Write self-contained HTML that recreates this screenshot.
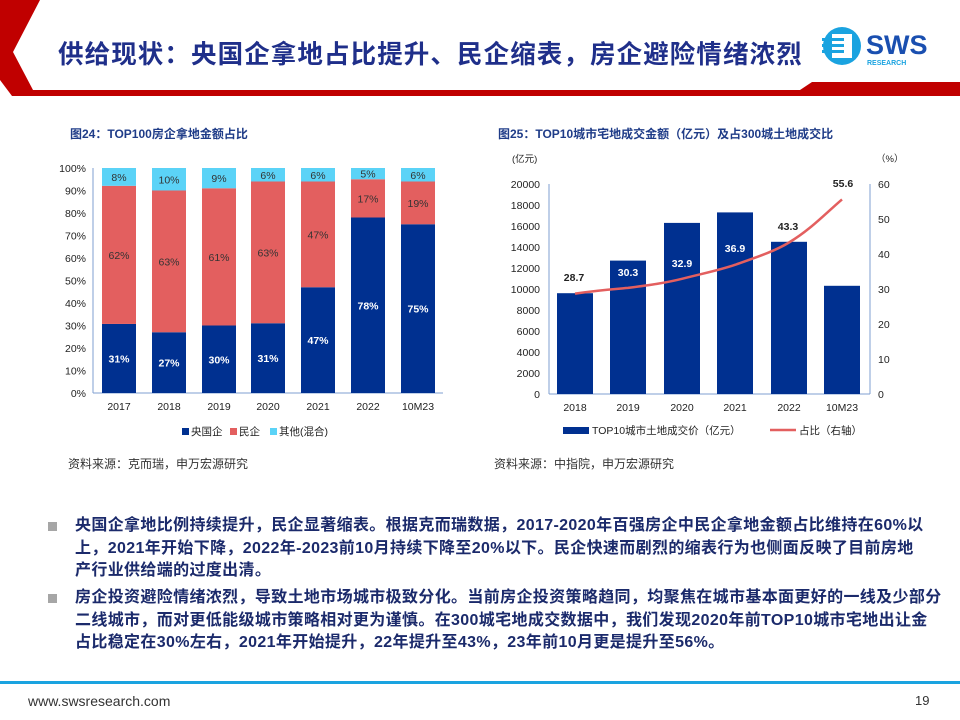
<!DOCTYPE html>
<html><head><meta charset="utf-8"><style>
body{margin:0;width:960px;height:720px;background:#fff;position:relative;overflow:hidden;font-family:"Liberation Sans","Noto Sans CJK SC",sans-serif}
.t{position:absolute;white-space:nowrap}
.b{position:absolute;left:75px;width:870px;font-size:16px;font-weight:bold;color:#1b2a6b;line-height:22.6px;white-space:nowrap;letter-spacing:0.35px}
.sq{position:absolute;left:48px;width:9px;height:9px;background:#a6a6a6}
</style></head><body>
<svg width="960" height="100" style="position:absolute;left:0;top:0">
<polygon points="0,0 40,0 13,52 33,90 800,90 812,82 960,82 960,96 12,96 0,80" fill="#c00000"/>
</svg>
<div class="t" style="left:58px;top:34px;font-size:25.5px;font-weight:bold;color:#1f2f8a;font-family:'Noto Sans CJK SC',sans-serif;letter-spacing:1.1px">供给现状：央国企拿地占比提升、民企缩表，房企避险情绪浓烈</div>
<svg width="130" height="50" style="position:absolute;left:820px;top:22px">
<circle cx="22" cy="24" r="19" fill="#1aa3e0"/><rect x="12" y="12" width="20" height="24" fill="#fff"/>
<rect x="2" y="16" width="22" height="3" fill="#1aa3e0"/><rect x="2" y="22" width="22" height="3" fill="#1aa3e0"/><rect x="2" y="28" width="22" height="3" fill="#1aa3e0"/>
<text x="46" y="32" font-family="Liberation Sans" font-weight="bold" font-size="27" fill="#1a4fb0">SWS</text>
<text x="47" y="43" font-family="Liberation Sans" font-weight="bold" font-size="7" fill="#1aa3e0">RESEARCH</text>
</svg>
<div class="t" style="left:70px;top:125px;font-size:12px;font-weight:bold;color:#1f3c88">图24：TOP100房企拿地金额占比</div>
<div class="t" style="left:498px;top:125px;font-size:12px;font-weight:bold;color:#1f3c88">图25：TOP10城市宅地成交金额（亿元）及占300城土地成交比</div>

<svg width="960" height="300" style="position:absolute;left:0;top:150px;font-family:'Liberation Sans','Noto Sans CJK SC',sans-serif" font-size="10.5">
<g fill="#222" text-anchor="end">
<text x="86" y="22">100%</text><text x="86" y="44.5">90%</text><text x="86" y="67">80%</text><text x="86" y="89.5">70%</text><text x="86" y="112">60%</text><text x="86" y="134.5">50%</text><text x="86" y="157">40%</text><text x="86" y="179.5">30%</text><text x="86" y="202">20%</text><text x="86" y="224.5">10%</text><text x="86" y="247">0%</text>
</g>
<line x1="93" y1="18" x2="93" y2="243" stroke="#7f9fd0"/>
<line x1="93" y1="243" x2="443" y2="243" stroke="#7f9fd0"/>
<g id="L"></g>
<g fill="#222" text-anchor="middle">
<text x="119" y="260">2017</text><text x="169" y="260">2018</text><text x="219" y="260">2019</text><text x="268" y="260">2020</text><text x="318" y="260">2021</text><text x="368" y="260">2022</text><text x="418" y="260">10M23</text>
</g>
<rect x="182" y="278" width="7" height="7" fill="#003090"/><text x="191" y="285" fill="#222">央国企</text>
<rect x="230" y="278" width="7" height="7" fill="#e35f5f"/><text x="239" y="285" fill="#222">民企</text>
<rect x="270" y="278" width="7" height="7" fill="#5bd3f7"/><text x="279" y="285" fill="#222">其他(混合)</text>

<text x="512" y="12" fill="#222" font-size="9.5">(亿元)</text>
<text x="876" y="12" fill="#222" font-size="9.5">（%）</text>
<g fill="#222" text-anchor="end">
<text x="540" y="38">20000</text><text x="540" y="59">18000</text><text x="540" y="80">16000</text><text x="540" y="101">14000</text><text x="540" y="122">12000</text><text x="540" y="143">10000</text><text x="540" y="164">8000</text><text x="540" y="185">6000</text><text x="540" y="206">4000</text><text x="540" y="227">2000</text><text x="540" y="248">0</text>
</g>
<g fill="#222">
<text x="878" y="38">60</text><text x="878" y="73">50</text><text x="878" y="108">40</text><text x="878" y="143">30</text><text x="878" y="178">20</text><text x="878" y="213">10</text><text x="878" y="248">0</text>
</g>
<line x1="549" y1="34" x2="549" y2="244" stroke="#7f9fd0"/>
<line x1="870" y1="34" x2="870" y2="244" stroke="#7f9fd0"/>
<line x1="549" y1="244" x2="870" y2="244" stroke="#7f9fd0"/>
<g fill="#003090">
<rect x="557" y="143.2" width="36" height="100.8"/>
<rect x="610" y="110.6" width="36" height="133.4"/>
<rect x="664" y="72.9" width="36" height="171.1"/>
<rect x="717" y="62.4" width="36" height="181.6"/>
<rect x="771" y="91.8" width="36" height="152.2"/>
<rect x="824" y="135.8" width="36" height="108.2"/>
</g>
<path d="M575,143.6 C600,140 615,139 628,137.9 C650,135 665,133 682,128.8 C705,123 720,120 735,114.8 C760,106 775,101 789,92.5 C810,80 825,64 842,49.4" fill="none" stroke="#e35f5f" stroke-width="2.5"/>
<g font-weight="bold" text-anchor="middle">
<text x="574" y="131" fill="#222">28.7</text>
<text x="628" y="126" fill="#fff">30.3</text>
<text x="682" y="117" fill="#fff">32.9</text>
<text x="735" y="102" fill="#fff">36.9</text>
<text x="788" y="80" fill="#222">43.3</text>
<text x="843" y="37" fill="#222">55.6</text>
</g>
<g fill="#222" text-anchor="middle">
<text x="575" y="261">2018</text><text x="628" y="261">2019</text><text x="682" y="261">2020</text><text x="735" y="261">2021</text><text x="789" y="261">2022</text><text x="842" y="261">10M23</text>
</g>
<rect x="563" y="277" width="26" height="7" fill="#003090"/><text x="592" y="284" fill="#222">TOP10城市土地成交价（亿元）</text>
<line x1="770" y1="280" x2="796" y2="280" stroke="#e35f5f" stroke-width="2.5"/><text x="799" y="284" fill="#222">占比（右轴）</text>
</svg>

<div class="t" style="left:68px;top:455px;font-size:12px;color:#333">资料来源：克而瑞，申万宏源研究</div>
<div class="t" style="left:494px;top:455px;font-size:12px;color:#333">资料来源：中指院，申万宏源研究</div>

<div class="sq" style="top:522px"></div>
<div class="b" style="top:515px">央国企拿地比例持续提升，民企显著缩表。根据克而瑞数据，2017-2020年百强房企中民企拿地金额占比维持在60%以<br>上，2021年开始下降，2022年-2023前10月持续下降至20%以下。民企快速而剧烈的缩表行为也侧面反映了目前房地<br>产行业供给端的过度出清。</div>
<div class="sq" style="top:594px"></div>
<div class="b" style="top:587px">房企投资避险情绪浓烈，导致土地市场城市极致分化。当前房企投资策略趋同，均聚焦在城市基本面更好的一线及少部分<br>二线城市，而对更低能级城市策略相对更为谨慎。在300城宅地成交数据中，我们发现2020年前TOP10城市宅地出让金<br>占比稳定在30%左右，2021年开始提升，22年提升至43%，23年前10月更是提升至56%。</div>

<div style="position:absolute;left:0;top:681px;width:960px;height:3px;background:#1aa3e0"></div>
<div class="t" style="left:28px;top:693px;font-size:14px;color:#333">www.swsresearch.com</div>
<div class="t" style="left:915px;top:693px;font-size:13px;color:#333">19</div>

<script>
var d=[[31,62,8],[27,63,10],[30,61,9],[31,63,6],[47,47,6],[78,17,5],[75,19,6]];
var cx=[119,169,219,268,318,368,418],s='';
d.forEach(function(v,i){var y=243,x=cx[i]-17;var c=['#003090','#e35f5f','#5bd3f7'];
var tot=v[0]+v[1]+v[2];
for(var k=0;k<3;k++){var h=v[k]*225/tot; if(k==2)h=y-18;
s+='<rect x="'+x+'" y="'+(y-h)+'" width="34" height="'+h+'" fill="'+c[k]+'"/>';
s+='<text x="'+cx[i]+'" y="'+(y-h/2+4)+'" text-anchor="middle" font-size="10.5" '+(k==0?'fill="#fff" font-weight="bold"':'fill="#333"')+'>'+v[k]+'%</text>';
y-=h;}});
document.getElementById('L').innerHTML=s;
</script>
</body></html>
